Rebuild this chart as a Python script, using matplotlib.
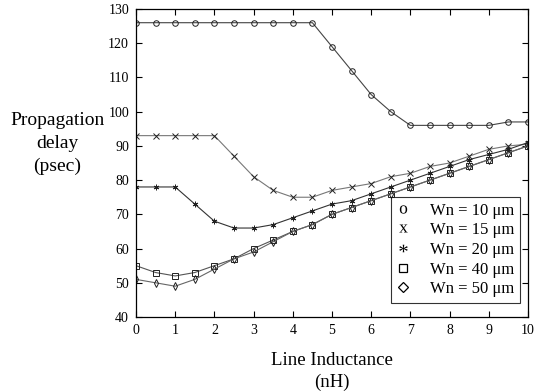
import numpy as np
import matplotlib.pyplot as plt
from matplotlib.lines import Line2D

plt.rcParams['font.family'] = ['Liberation Serif', 'DejaVu Serif']
plt.rcParams['mathtext.fontset'] = 'custom'
plt.rcParams['mathtext.rm'] = 'Liberation Serif'

# line inductance (nH), sampled every 0.5 nH
L_nH = np.arange(0, 10.01, 0.5)

# propagation delay (psec) for each driver width
wn10 = [126, 126, 126, 126, 126, 126, 126, 126, 126, 126, 119, 112, 105, 100, 96, 96, 96, 96, 96, 97, 97]
wn15 = [93, 93, 93, 93, 93, 87, 81, 77, 75, 75, 77, 78, 79, 81, 82, 84, 85, 87, 89, 90, 90.5]
wn20 = [78, 78, 78, 73, 68, 66, 66, 67, 69, 71, 73, 74, 76, 78, 80, 82, 84, 86, 87.5, 89, 91]
wn40 = [55, 53, 52, 53, 55, 57, 60, 62.5, 65, 67, 70, 72, 74, 76, 78, 80, 82, 84, 86, 88, 90]
wn50 = [51, 50, 49, 51, 54, 57, 59, 62, 65, 67, 70, 72, 74, 76, 78, 80, 82, 84, 86, 88, 90]

labels = ['Wn = 10 \u03bcm', 'Wn = 15 \u03bcm', 'Wn = 20 \u03bcm', 'Wn = 40 \u03bcm', 'Wn = 50 \u03bcm']
series = [wn10, wn15, wn20, wn40, wn50]
markers = ['o', 'x', (6, 2, 0), 's', 'd']
line_cols = ['#444444', '#777777', '#333333', '#555555', '#666666']

fig = plt.figure(figsize=(5.35, 3.92), dpi=100)
ax = fig.add_axes([0.2542, 0.1913, 0.7327, 0.7857])

for y, m, c in zip(series, markers, line_cols):
    ax.plot(L_nH, y, color=c, lw=0.8, marker=m, markersize=4,
            markerfacecolor='none', markeredgecolor='#222222', markeredgewidth=0.7)

ax.set_xlim(0, 10)
ax.set_ylim(40, 130)
ax.set_xticks(range(0, 11))
ax.set_yticks(range(40, 131, 10))
ax.tick_params(direction='in', top=True, right=True, length=4, width=0.8, labelsize=10, pad=5)
for s in ax.spines.values():
    s.set_linewidth(0.9)

ax.set_xlabel('Line Inductance\n(nH)', fontsize=13.5, labelpad=11, linespacing=1.3)
fig.text(0.107, 0.633, 'Propagation\ndelay\n(psec)', fontsize=14, ha='center', va='center',
         linespacing=1.45)

# legend: the first three symbols are plain characters, as in the original key
handles = []
for m in [r'$\mathrm{o}$', r'$\mathrm{x}$', r'$\mathrm{*}$']:
    handles.append(Line2D([], [], ls='none', marker=m, color='black',
                          markerfacecolor='black', markersize=6, markeredgewidth=0))
handles.append(Line2D([], [], ls='none', marker='s', color='black',
                      markerfacecolor='none', markersize=6, markeredgewidth=0.9))
handles.append(Line2D([], [], ls='none', marker='D', color='black',
                      markerfacecolor='none', markersize=5.5, markeredgewidth=0.9))
leg = ax.legend(handles, labels, loc='lower right', bbox_to_anchor=(0.98, 0.045),
                fontsize=12, frameon=True, fancybox=False, edgecolor='black',
                handletextpad=1.2, borderpad=0.35, labelspacing=0.22, handlelength=0.8,
                borderaxespad=0)
leg.get_frame().set_linewidth(0.8)

fig.savefig('out.png', dpi=100)
